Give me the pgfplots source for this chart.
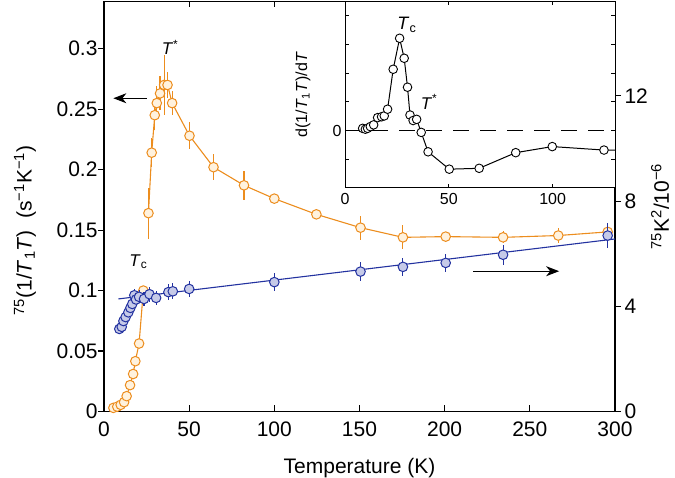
\documentclass[border=0pt]{standalone}
\usepackage{pgfplots}
\pgfplotsset{compat=1.18}
\usepackage{fontspec}
\setmainfont{Liberation Sans}
\usetikzlibrary{arrows.meta}
\definecolor{org}{RGB}{236,141,30}
\definecolor{orgfill}{RGB}{255,242,222}
\definecolor{blu}{RGB}{35,50,160}
\definecolor{blufill}{RGB}{198,202,232}
\newcommand{\fsz}[1]{\fontsize{#1pt}{#1pt}\selectfont}

\pgfplotstableread{
x y e
26.1 0.164 0.021
28.0 0.214 0.012
29.8 0.245 0.012
31.0 0.255 0.014
32.9 0.263 0.014
35.3 0.270 0.025
37.3 0.270 0.011
40.0 0.255 0.010
50.2 0.228 0.011
64.3 0.202 0.011
82.2 0.187 0.012
100.0 0.176 0.003
124.7 0.163 0.003
150.6 0.152 0.010
175.5 0.144 0.010
200.6 0.1446 0.003
234.3 0.144 0.005
266.7 0.1455 0.006
295.7 0.1485 0.005
}\orghigh

\pgfplotstableread{
x y
5.5 0.003
7.8 0.004
9.8 0.0055
11.8 0.0077
13.3 0.0127
15.3 0.0218
17.1 0.031
18.4 0.0416
20.6 0.0562
23.1 0.100
}\orglow

\pgfplotstableread{
x y e
9.0 3.14 0.20
10.4 3.22 0.20
11.4 3.44 0.20
12.7 3.59 0.20
14.3 3.77 0.20
15.5 3.94 0.20
16.6 4.09 0.20
17.8 4.42 0.25
18.8 4.26 0.25
20.6 4.36 0.25
23.5 4.28 0.25
26.7 4.46 0.28
30.6 4.32 0.28
37.8 4.54 0.30
40.4 4.57 0.30
50.0 4.66 0.30
100.0 4.92 0.35
150.6 5.32 0.35
175.5 5.50 0.35
200.6 5.65 0.35
234.3 5.96 0.38
295.7 6.69 0.48
}\blue

\pgfplotstableread{
x y
8.4 4.28
300 6.56
}\bluefit

\pgfplotstableread{
x y
8.5 0.09
9.8 0.06
10.9 0.09
12.2 0.15
13.8 0.21
15.7 0.46
17.6 0.49
18.9 0.52
20.5 0.75
23.2 2.13
26.3 3.20
28.5 2.51
30.1 1.51
31.3 0.55
32.8 0.36
34.5 0.40
36.7 -0.05
40.0 -0.72
50.2 -1.32
64.6 -1.29
82.2 -0.75
99.8 -0.54
124.7 -0.66
150.0 -0.68
}\inset

\begin{document}
\begin{tikzpicture}
% main axis (left scale)
\begin{axis}[
  at={(0pt,0pt)}, anchor=south west,
  scale only axis, width=511pt, height=410pt,
  xmin=0, xmax=300, ymin=0, ymax=0.339,
  xtick={0,50,100,150,200,250,300},
  xticklabels={0,50,100,150,200,250,300},
  ytick={0,0.05,0.1,0.15,0.2,0.25,0.3},
  yticklabels={0,0.05,0.1,0.15,0.2,0.25,0.3},
  xtick pos=both, ytick pos=left,
  xtick align=inside, ytick align=outside,
  major tick length=6pt,
  axis line style={line width=1.1pt},
  every tick/.style={black, line width=1.1pt},
  tick label style={font=\fsz{21}},
  xticklabel style={yshift=-7pt},
  yticklabel style={xshift=3pt},
  /pgf/number format/assume math mode=true,
  xlabel={Temperature (K)},
  xlabel style={font=\fsz{21}, at={(axis description cs:0.5,0)}, anchor=north, yshift=-43pt},
  ylabel={\textsuperscript{75}(1/\textit{T}\textsubscript{1}\textit{T})\ \ (s\textsuperscript{−1}K\textsuperscript{−1})},
  ylabel style={font=\fsz{21}, at={(axis description cs:0,0.5)}, anchor=center, yshift=79pt, xshift=-24pt},
  clip=false,
]
\addplot[org, line width=1.1pt, mark=*, mark size=4.8pt,
  mark options={draw=org, fill=orgfill, line width=1pt},
  error bars/.cd, y dir=both, y explicit, error mark=none,
  error bar style={org, line width=1.1pt}]
  table[x=x, y=y, y error=e] {\orghigh};
\addplot[org, line width=1.1pt, mark=*, mark size=4.8pt,
  mark options={draw=org, fill=orgfill, line width=1pt}]
  table[x=x, y=y] {\orglow};
\draw[-{Stealth[length=13pt,width=10pt,inset=4pt]}, line width=1.1pt, black] (axis cs:25.1,0.259) -- (axis cs:5.5,0.259);
\draw[-{Stealth[length=13pt,width=10pt,inset=4pt]}, line width=1.1pt, black] (axis cs:216.9,0.116) -- (axis cs:267.2,0.116);
\node[font=\fsz{17}] at (axis cs:38.8,0.301) {\textit{T}\textsuperscript{*}};
\node[font=\fsz{17}] at (axis cs:20.2,0.124) {\textit{T}\textsubscript{c}};
\end{axis}
% right axis (K^2)
\begin{axis}[
  at={(0pt,0pt)}, anchor=south west,
  scale only axis, width=511pt, height=410pt,
  xmin=0, xmax=300, ymin=0, ymax=15.59,
  axis y line*=right, axis x line=none,
  ytick={0,4,8,12}, yticklabels={0,4,8,12},
  ytick align=outside, major tick length=6pt,
  axis line style={line width=1.1pt},
  every tick/.style={black, line width=1.1pt},
  tick label style={font=\fsz{21}},
  /pgf/number format/assume math mode=true,
  ylabel={\textsuperscript{75}K\textsuperscript{2}/10\textsuperscript{−6}},
  ylabel style={font=\fsz{21}, at={(axis description cs:1,0.5)}, anchor=center, yshift=-45pt},
]
\addplot[blu, line width=1.1pt, no marks] table[x=x,y=y] {\bluefit};
\addplot[only marks, mark=*, mark size=4.8pt,
  mark options={draw=blu, fill=blufill, line width=1pt},
  error bars/.cd, y dir=both, y explicit, error mark=none,
  error bar style={blu, line width=1.1pt}]
  table[x=x, y=y, y error=e] {\blue};
\end{axis}
% inset
\begin{axis}[
  at={(241pt,223.5pt)}, anchor=south west,
  scale only axis, width=270pt, height=186.5pt,
  xmin=0, xmax=130, ymin=-1.97, ymax=4.47,
  axis background/.style={fill=white},
  xtick={0,50,100}, xticklabels={0,50,100},
  ytick={-1,0,1,2,3,4}, yticklabels={{},0,{},{},{},{}},
  xtick pos=both, ytick pos=both, tick align=inside,
  major tick length=4pt,
  axis line style={line width=1pt},
  every tick/.style={black, line width=1pt},
  tick label style={font=\fsz{16}},
  xticklabel style={yshift=-2pt},
  /pgf/number format/assume math mode=true,
  ylabel={d(1/\textit{T}\textsubscript{1}\textit{T})/d\textit{T}},
  ylabel style={font=\fsz{16}, at={(axis description cs:0,0.5)}, anchor=center, yshift=42pt},
]
\addplot[black, line width=1pt, dash pattern=on 16pt off 11pt, no marks] coordinates {(0,0) (130,0)};
\addplot[black, line width=1pt, mark=*, mark size=4.3pt,
  mark options={draw=black, fill=white, line width=0.9pt, solid}]
  table[x=x,y=y] {\inset};
\node[font=\fsz{18}] at (axis cs:29.8,3.66) {\textit{T}\textsubscript{c}};
\node[font=\fsz{17}] at (axis cs:40.5,1.0) {\textit{T}\textsuperscript{*}};
\end{axis}
\pgfresetboundingbox
\path[use as bounding box] (-104pt,-65.5pt) rectangle (571pt,411.5pt);
\end{tikzpicture}
\end{document}
